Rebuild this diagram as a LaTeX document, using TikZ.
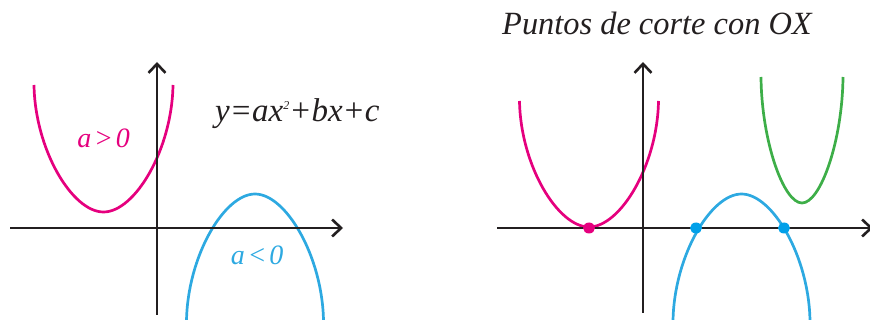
\documentclass[tikz,border=0pt]{standalone}
\usepackage{fontspec}
\setmainfont{Liberation Serif}
\usetikzlibrary{arrows.meta}
\definecolor{mag}{HTML}{E5007E}
\definecolor{cyanc}{HTML}{2DA9E1}
\definecolor{cyandot}{HTML}{00A0E9}
\definecolor{grn}{HTML}{3DAE48}
\definecolor{axc}{HTML}{231F20}
\newcommand\ucurve[5]{%
  \draw[curve,#1] ({#2-#4},{#3-#5}) .. controls ({#2-0.985*#4},{#3-0.49*#5}) and ({#2-0.45*#4},{#3}) .. ({#2},{#3})
    .. controls ({#2+0.45*#4},{#3}) and ({#2+0.985*#4},{#3-0.49*#5}) .. ({#2+#4},{#3-#5});}
\tikzset{
  axis/.style={draw=axc,line width=2.6pt,-{Straight Barb[length=9pt,width=17pt,line width=2.6pt]}},
  curve/.style={line width=2.7pt},
  lbl/.style={font=\fontsize{28}{28}\selectfont\itshape,inner sep=0pt,anchor=base}
}
\begin{document}
\begin{tikzpicture}[x=1pt,y=-1pt]
\useasboundingbox (0,0) rectangle (870,320);
% left panel
\coordinate (lyb) at (157,315); \coordinate (lyt) at (157,62);
\coordinate (lxl) at (10,228);  \coordinate (lxr) at (343,228);
\ucurve{mag}{103.5}{212}{69.5}{127}
\ucurve{cyanc}{255}{194}{68.5}{-127}
\draw[axis] (lyb) -- (lyt);
\draw[axis] (lxl) -- (lxr);
\node[lbl,text=mag] (lp) at (103.5,148) {a\hspace{0.1em}>\hspace{0.1em}0};
\node[lbl,text=cyanc] (ln) at (257,265) {a\hspace{0.1em}<\hspace{0.1em}0};
\node[lbl,font=\fontsize{33}{33}\selectfont\itshape,text=axc,anchor=base west] (eq) at (215,122) {y=ax\raisebox{12pt}{\fontsize{12}{12}\selectfont 2}+bx+c};
% right panel
\coordinate (ryb) at (643,313); \coordinate (ryt) at (643,62);
\coordinate (rxl) at (497,228); \coordinate (rxr) at (873,228);
\ucurve{mag}{589}{227}{69.5}{126}
\ucurve{cyanc}{741.5}{194}{68.5}{-127}
\ucurve{grn}{802}{203}{41}{126}
\draw[axis] (ryb) -- (ryt);
\draw[axis] (rxl) -- (rxr);
\fill[mag] (589,228) ellipse (6 and 5.5);
\fill[cyandot] (696,228) ellipse (6 and 5.5);
\fill[cyandot] (784,228) ellipse (6 and 5.5);
\node[lbl,font=\fontsize{32.4}{32.4}\selectfont\itshape,text=axc,anchor=base west] (title) at (502,35) {Puntos de corte con OX};
\end{tikzpicture}
\end{document}
